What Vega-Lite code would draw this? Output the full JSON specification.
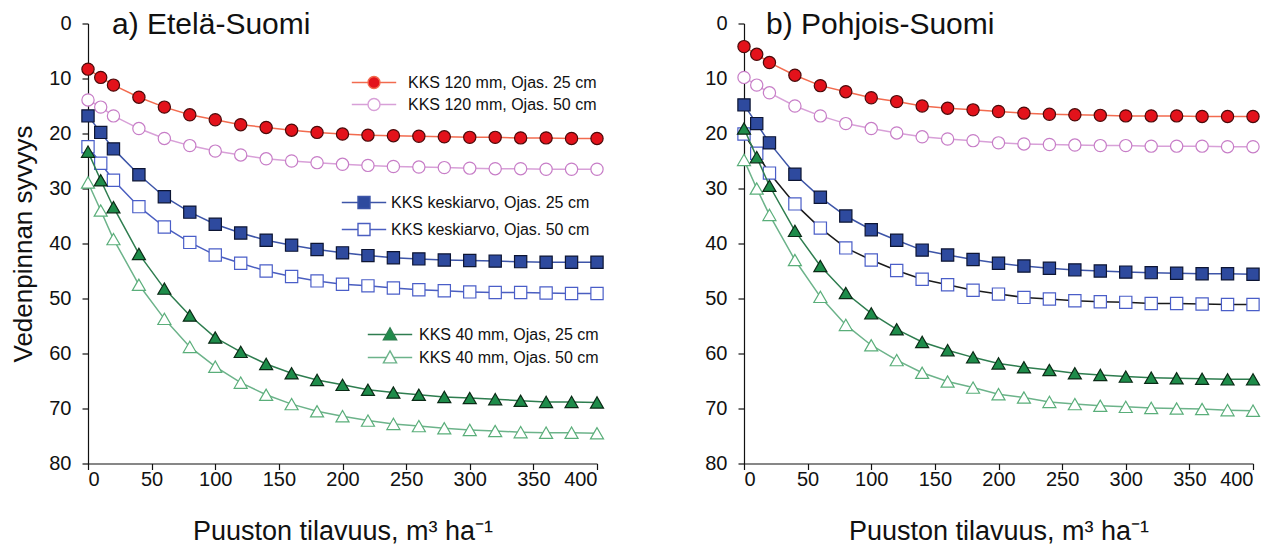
{
  "$schema": "https://vega.github.io/schema/vega-lite/v6.json",
  "background": "white",
  "padding": {"left": 10, "top": 9.5, "right": 5, "bottom": 5},
  "config": {
    "font": "Liberation Sans",
    "view": {"stroke": null},
    "axis": {"labelFont": "Liberation Sans", "titleFont": "Liberation Sans", "labelFontSize": 20, "titleFontSize": 25, "titleFontWeight": "normal", "labelColor": "#111", "titleColor": "#111", "domainColor": "#111", "tickColor": "#111", "grid": false, "domainWidth": 1.2, "tickWidth": 1.2, "tickSize": 6},
    "legend": {"labelLimit": 400, "labelFont": "Liberation Sans"},
    "title": {"font": "Liberation Sans", "fontSize": 30, "fontWeight": "normal", "color": "#111", "anchor": "start", "frame": "group"}
  },
  "data": {"values": [
    {"p":"a","x":0,"r25":8.3,"r50":13.9,"k25":16.8,"k50":22.4,"g25":23.3,"g50":28.9},
    {"p":"a","x":10,"r25":9.8,"r50":15.2,"k25":19.8,"k50":25.4,"g25":28.5,"g50":34.0},
    {"p":"a","x":20,"r25":11.2,"r50":16.8,"k25":22.8,"k50":28.5,"g25":33.4,"g50":39.2},
    {"p":"a","x":40,"r25":13.4,"r50":19.1,"k25":27.5,"k50":33.3,"g25":41.9,"g50":47.5},
    {"p":"a","x":60,"r25":15.2,"r50":20.9,"k25":31.5,"k50":37.0,"g25":48.2,"g50":53.7},
    {"p":"a","x":80,"r25":16.6,"r50":22.2,"k25":34.3,"k50":39.8,"g25":53.1,"g50":58.8},
    {"p":"a","x":100,"r25":17.5,"r50":23.2,"k25":36.5,"k50":42.1,"g25":57.1,"g50":62.4},
    {"p":"a","x":120,"r25":18.4,"r50":23.9,"k25":38.1,"k50":43.6,"g25":59.7,"g50":65.3},
    {"p":"a","x":140,"r25":18.9,"r50":24.6,"k25":39.4,"k50":45.0,"g25":61.9,"g50":67.5},
    {"p":"a","x":160,"r25":19.4,"r50":25.0,"k25":40.3,"k50":46.0,"g25":63.6,"g50":69.2},
    {"p":"a","x":180,"r25":19.8,"r50":25.3,"k25":41.1,"k50":46.8,"g25":64.8,"g50":70.5},
    {"p":"a","x":200,"r25":20.1,"r50":25.6,"k25":41.7,"k50":47.4,"g25":65.7,"g50":71.4},
    {"p":"a","x":220,"r25":20.3,"r50":25.8,"k25":42.2,"k50":47.7,"g25":66.6,"g50":72.2},
    {"p":"a","x":240,"r25":20.4,"r50":26.0,"k25":42.6,"k50":48.1,"g25":67.1,"g50":72.8},
    {"p":"a","x":260,"r25":20.5,"r50":26.1,"k25":42.8,"k50":48.4,"g25":67.5,"g50":73.2},
    {"p":"a","x":280,"r25":20.6,"r50":26.2,"k25":43.0,"k50":48.6,"g25":67.9,"g50":73.6},
    {"p":"a","x":300,"r25":20.7,"r50":26.3,"k25":43.1,"k50":48.8,"g25":68.1,"g50":73.9},
    {"p":"a","x":320,"r25":20.7,"r50":26.4,"k25":43.2,"k50":48.9,"g25":68.3,"g50":74.1},
    {"p":"a","x":340,"r25":20.8,"r50":26.4,"k25":43.3,"k50":48.9,"g25":68.6,"g50":74.3},
    {"p":"a","x":360,"r25":20.8,"r50":26.5,"k25":43.4,"k50":49.0,"g25":68.8,"g50":74.4},
    {"p":"a","x":380,"r25":20.9,"r50":26.5,"k25":43.4,"k50":49.1,"g25":68.8,"g50":74.4},
    {"p":"a","x":400,"r25":20.9,"r50":26.5,"k25":43.4,"k50":49.1,"g25":68.9,"g50":74.5},
    {"p":"b","x":0,"r25":4.2,"r50":9.8,"k25":14.8,"k50":20.1,"g25":19.1,"g50":24.8},
    {"p":"b","x":10,"r25":5.6,"r50":11.2,"k25":18.2,"k50":23.6,"g25":24.3,"g50":30.0},
    {"p":"b","x":20,"r25":7.1,"r50":12.6,"k25":21.7,"k50":27.2,"g25":29.5,"g50":34.8},
    {"p":"b","x":40,"r25":9.4,"r50":15.0,"k25":27.4,"k50":32.8,"g25":37.7,"g50":43.0},
    {"p":"b","x":60,"r25":11.3,"r50":16.8,"k25":31.6,"k50":37.2,"g25":44.1,"g50":49.7},
    {"p":"b","x":80,"r25":12.4,"r50":18.2,"k25":35.0,"k50":40.8,"g25":49.0,"g50":54.8},
    {"p":"b","x":100,"r25":13.5,"r50":19.1,"k25":37.5,"k50":43.0,"g25":52.7,"g50":58.5},
    {"p":"b","x":120,"r25":14.2,"r50":19.9,"k25":39.4,"k50":44.9,"g25":55.6,"g50":61.2},
    {"p":"b","x":140,"r25":15.0,"r50":20.6,"k25":41.2,"k50":46.5,"g25":57.9,"g50":63.5},
    {"p":"b","x":160,"r25":15.4,"r50":21.0,"k25":42.1,"k50":47.5,"g25":59.4,"g50":65.1},
    {"p":"b","x":180,"r25":15.7,"r50":21.3,"k25":42.9,"k50":48.5,"g25":60.7,"g50":66.2},
    {"p":"b","x":200,"r25":16.0,"r50":21.7,"k25":43.6,"k50":49.2,"g25":61.8,"g50":67.4},
    {"p":"b","x":220,"r25":16.3,"r50":21.9,"k25":44.1,"k50":49.8,"g25":62.5,"g50":68.0},
    {"p":"b","x":240,"r25":16.5,"r50":22.0,"k25":44.5,"k50":50.1,"g25":63.0,"g50":68.8},
    {"p":"b","x":260,"r25":16.6,"r50":22.1,"k25":44.8,"k50":50.4,"g25":63.6,"g50":69.2},
    {"p":"b","x":280,"r25":16.7,"r50":22.2,"k25":45.0,"k50":50.6,"g25":63.9,"g50":69.5},
    {"p":"b","x":300,"r25":16.8,"r50":22.2,"k25":45.2,"k50":50.7,"g25":64.2,"g50":69.7},
    {"p":"b","x":320,"r25":16.8,"r50":22.3,"k25":45.3,"k50":50.9,"g25":64.4,"g50":69.9},
    {"p":"b","x":340,"r25":16.8,"r50":22.3,"k25":45.4,"k50":50.9,"g25":64.5,"g50":70.0},
    {"p":"b","x":360,"r25":16.9,"r50":22.3,"k25":45.5,"k50":51.0,"g25":64.6,"g50":70.1},
    {"p":"b","x":380,"r25":16.9,"r50":22.4,"k25":45.5,"k50":51.1,"g25":64.7,"g50":70.3},
    {"p":"b","x":400,"r25":16.9,"r50":22.4,"k25":45.6,"k50":51.1,"g25":64.7,"g50":70.4}
  ]},
  "spacing": 98,
  "resolve": {"scale": {"stroke": "independent", "fill": "independent", "x": "independent", "y": "independent"}, "legend": {"stroke": "independent", "fill": "independent"}},
  "hconcat": [
    {
      "width": 509, "height": 440,
      "title": {"text": "a) Etelä-Suomi", "dx": 24, "offset": -50, "baseline": "alphabetic"},
      "encoding": {
        "x": {"field": "x", "type": "quantitative", "scale": {"domain": [0, 400], "nice": false}, "axis": {"values": [0,50,100,150,200,250,300,350,400], "title": "Puuston tilavuus, m³ ha⁻¹", "titleFontSize": 27, "labelPadding": 0, "titlePadding": 29}},
        "y": {"field": "y", "type": "quantitative", "scale": {"domain": [0, 80], "reverse": true, "nice": false}, "axis": {"values": [0,10,20,30,40,50,60,70,80], "title": "Vedenpinnan syvyys", "titleFontSize": 26, "labelPadding": 11, "titlePadding": 12}}
      },
      "resolve": {"scale": {"stroke": "independent", "fill": "independent"}, "legend": {"stroke": "independent", "fill": "independent"}},
      "layer": [
        {"data": {"values": [{"y": 35}]}, "mark": {"type": "rule", "color": "#c4c4c4", "strokeWidth": 1.5, "strokeDash": [14, 8]}, "encoding": {"x": {"datum": 0}, "x2": {"datum": 400}}},
        {
          "transform": [{"filter": "datum.p == 'a'"}, {"fold": ["r25", "r50"], "as": ["s", "y"]}],
          "layer": [
            {"mark": {"type": "line", "strokeWidth": 1.5}, "encoding": {"stroke": {"field": "s", "type": "nominal", "scale": {"domain": ["r25", "r50"], "range": ["#f26b4f", "#d8a0d8"]}, "legend": {"orient": "none", "legendX": 278, "legendY": 51, "title": null, "padding": 0, "symbolType": "M-3.7,0H-1M1,0H3.7M-1,0A1,1,0,1,0,1,0A1,1,0,1,0,-1,0Z", "symbolSize": 144, "symbolStrokeWidth": 1.4, "labelFontSize": 16, "labelColor": "#111", "labelOffset": 26, "rowPadding": 4, "labelExpr": "datum.label == 'r25' ? 'KKS 120 mm, Ojas.  25 cm' : 'KKS 120 mm, Ojas. 50 cm'"}}}},
            {"mark": {"type": "point", "shape": "circle", "size": 150, "strokeWidth": 1.2, "opacity": 1, "filled": true}, "encoding": {"fill": {"field": "s", "type": "nominal", "scale": {"domain": ["r25", "r50"], "range": ["#e3121b", "#ffffff"]}, "legend": {"orient": "none", "legendX": 278, "legendY": 51, "title": null, "padding": 0, "symbolType": "M-3.7,0H-1M1,0H3.7M-1,0A1,1,0,1,0,1,0A1,1,0,1,0,-1,0Z", "symbolSize": 144, "symbolStrokeWidth": 1.4, "labelFontSize": 16, "labelColor": "#111", "labelOffset": 26, "rowPadding": 4, "labelExpr": "datum.label == 'r25' ? 'KKS 120 mm, Ojas.  25 cm' : 'KKS 120 mm, Ojas. 50 cm'"}}, "stroke": {"condition": {"test": "datum.s == 'r25'", "value": "#4a0a0a"}, "value": "#c77dc7"}}}
          ]
        },
        {
          "transform": [{"filter": "datum.p == 'a'"}, {"fold": ["k25", "k50"], "as": ["s", "y"]}],
          "layer": [
            {"mark": {"type": "line", "strokeWidth": 1.5}, "encoding": {"stroke": {"field": "s", "type": "nominal", "scale": {"domain": ["k25", "k50"], "range": ["#3d55a8", "#4a5ec0"]}, "legend": {"orient": "none", "legendX": 268, "legendY": 171, "title": null, "padding": 0, "symbolType": "M-3.7,0H-1M1,0H3.7M-1,-1H1V1H-1Z", "symbolSize": 144, "symbolStrokeWidth": 1.4, "labelFontSize": 16, "labelColor": "#111", "labelOffset": 19, "rowPadding": 9, "labelExpr": "datum.label == 'k25' ? 'KKS keskiarvo, Ojas. 25 cm' : 'KKS keskiarvo, Ojas. 50 cm'"}}}},
            {"mark": {"type": "point", "shape": "square", "size": 150, "strokeWidth": 1.2, "opacity": 1, "filled": true}, "encoding": {"fill": {"field": "s", "type": "nominal", "scale": {"domain": ["k25", "k50"], "range": ["#2e4a9e", "#ffffff"]}, "legend": {"orient": "none", "legendX": 268, "legendY": 171, "title": null, "padding": 0, "symbolType": "M-3.7,0H-1M1,0H3.7M-1,-1H1V1H-1Z", "symbolSize": 144, "symbolStrokeWidth": 1.4, "labelFontSize": 16, "labelColor": "#111", "labelOffset": 19, "rowPadding": 9, "labelExpr": "datum.label == 'k25' ? 'KKS keskiarvo, Ojas. 25 cm' : 'KKS keskiarvo, Ojas. 50 cm'"}}, "stroke": {"condition": {"test": "datum.s == 'k25'", "value": "#0d1533"}, "value": "#4a5ec8"}}}
          ]
        },
        {
          "transform": [{"filter": "datum.p == 'a'"}, {"fold": ["g25", "g50"], "as": ["s", "y"]}],
          "layer": [
            {"mark": {"type": "line", "strokeWidth": 1.5}, "encoding": {"stroke": {"field": "s", "type": "nominal", "scale": {"domain": ["g25", "g50"], "range": ["#2e7d4f", "#6cb38a"]}, "legend": {"orient": "none", "legendX": 294, "legendY": 303, "title": null, "padding": 0, "symbolType": "M-3.7,0H-0.6M0.6,0H3.7M0,-1.1L1.1,0.9H-1.1Z", "symbolSize": 144, "symbolStrokeWidth": 1.4, "labelFontSize": 16, "labelColor": "#111", "labelOffset": 21, "rowPadding": 4, "labelExpr": "datum.label == 'g25' ? 'KKS 40 mm, Ojas, 25 cm' : 'KKS 40 mm, Ojas. 50 cm'"}}}},
            {"mark": {"type": "point", "shape": "triangle-up", "size": 170, "strokeWidth": 1.2, "opacity": 1, "filled": true}, "encoding": {"fill": {"field": "s", "type": "nominal", "scale": {"domain": ["g25", "g50"], "range": ["#1e8c4a", "#ffffff"]}, "legend": {"orient": "none", "legendX": 294, "legendY": 303, "title": null, "padding": 0, "symbolType": "M-3.7,0H-0.6M0.6,0H3.7M0,-1.1L1.1,0.9H-1.1Z", "symbolSize": 144, "symbolStrokeWidth": 1.4, "labelFontSize": 16, "labelColor": "#111", "labelOffset": 21, "rowPadding": 4, "labelExpr": "datum.label == 'g25' ? 'KKS 40 mm, Ojas, 25 cm' : 'KKS 40 mm, Ojas. 50 cm'"}}, "stroke": {"condition": {"test": "datum.s == 'g25'", "value": "#0b2a16"}, "value": "#5aae7a"}}}
          ]
        }
      ]
    },
    {
      "width": 509, "height": 440,
      "title": {"text": "b) Pohjois-Suomi", "dx": 22, "offset": -50, "baseline": "alphabetic"},
      "encoding": {
        "x": {"field": "x", "type": "quantitative", "scale": {"domain": [0, 400], "nice": false}, "axis": {"values": [0,50,100,150,200,250,300,350,400], "title": "Puuston tilavuus, m³ ha⁻¹", "titleFontSize": 27, "labelPadding": 0, "titlePadding": 29}},
        "y": {"field": "y", "type": "quantitative", "scale": {"domain": [0, 80], "reverse": true, "nice": false}, "axis": {"values": [0,10,20,30,40,50,60,70,80], "title": null, "labelPadding": 11}}
      },
      "resolve": {"scale": {"stroke": "independent", "fill": "independent"}, "legend": {"stroke": "independent", "fill": "independent"}},
      "layer": [
        {"data": {"values": [{"y": 35}]}, "mark": {"type": "rule", "color": "#c4c4c4", "strokeWidth": 1.5, "strokeDash": [14, 8]}, "encoding": {"x": {"datum": 0}, "x2": {"datum": 400}}},
        {
          "transform": [{"filter": "datum.p == 'b'"}, {"fold": ["r25", "r50"], "as": ["s", "y"]}],
          "layer": [
            {"mark": {"type": "line", "strokeWidth": 1.5}, "encoding": {"stroke": {"field": "s", "type": "nominal", "scale": {"domain": ["r25", "r50"], "range": ["#f26b4f", "#d8a0d8"]}, "legend": null}}},
            {"mark": {"type": "point", "shape": "circle", "size": 150, "strokeWidth": 1.2, "opacity": 1, "filled": true}, "encoding": {"fill": {"field": "s", "type": "nominal", "scale": {"domain": ["r25", "r50"], "range": ["#e3121b", "#ffffff"]}, "legend": null}, "stroke": {"condition": {"test": "datum.s == 'r25'", "value": "#4a0a0a"}, "value": "#c77dc7"}}}
          ]
        },
        {
          "transform": [{"filter": "datum.p == 'b'"}, {"fold": ["k25", "k50"], "as": ["s", "y"]}],
          "layer": [
            {"mark": {"type": "line", "strokeWidth": 1.5}, "encoding": {"stroke": {"field": "s", "type": "nominal", "scale": {"domain": ["k25", "k50"], "range": ["#3d55a8", "#1a1a1a"]}, "legend": null}}},
            {"mark": {"type": "point", "shape": "square", "size": 150, "strokeWidth": 1.2, "opacity": 1, "filled": true}, "encoding": {"fill": {"field": "s", "type": "nominal", "scale": {"domain": ["k25", "k50"], "range": ["#2e4a9e", "#ffffff"]}, "legend": null}, "stroke": {"condition": {"test": "datum.s == 'k25'", "value": "#0d1533"}, "value": "#4a5ec8"}}}
          ]
        },
        {
          "transform": [{"filter": "datum.p == 'b'"}, {"fold": ["g25", "g50"], "as": ["s", "y"]}],
          "layer": [
            {"mark": {"type": "line", "strokeWidth": 1.5}, "encoding": {"stroke": {"field": "s", "type": "nominal", "scale": {"domain": ["g25", "g50"], "range": ["#2e7d4f", "#6cb38a"]}, "legend": null}}},
            {"mark": {"type": "point", "shape": "triangle-up", "size": 170, "strokeWidth": 1.2, "opacity": 1, "filled": true}, "encoding": {"fill": {"field": "s", "type": "nominal", "scale": {"domain": ["g25", "g50"], "range": ["#1e8c4a", "#ffffff"]}, "legend": null}, "stroke": {"condition": {"test": "datum.s == 'g25'", "value": "#0b2a16"}, "value": "#5aae7a"}}}
          ]
        }
      ]
    }
  ]
}
